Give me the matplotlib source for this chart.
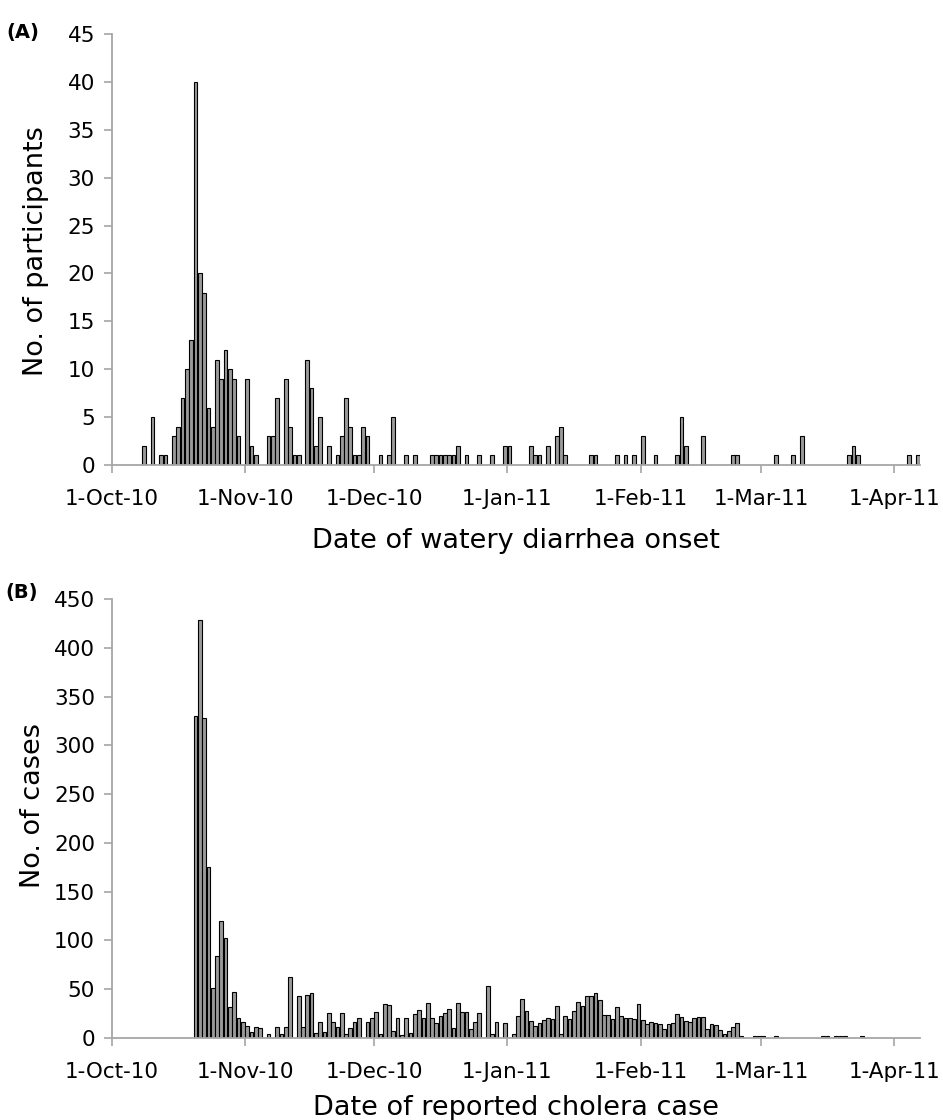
import numpy as np
import matplotlib
matplotlib.use("Agg")
import matplotlib.pyplot as plt
import matplotlib.dates as mdates
from matplotlib.ticker import FuncFormatter, MultipleLocator

# (A) daily counts by date of watery diarrhea onset, one list per month
a_oct = [0, 0, 0, 0, 0, 0, 0, 2, 0, 5, 0, 1, 1, 0, 3, 4, 7, 10, 13, 40,
         20, 18, 6, 4, 11, 9, 12, 10, 9, 3, 0]
a_nov = [9, 2, 1, 0, 0, 3, 3, 7, 0, 9, 4, 1, 1, 0, 11, 8, 2, 5, 0, 2,
         0, 1, 3, 7, 4, 1, 1, 4, 3, 0]
a_dec = [0, 1, 0, 1, 5, 0, 0, 1, 0, 1, 0, 0, 0, 1, 1, 1, 1, 1, 1, 2,
         0, 1, 0, 0, 1, 0, 0, 1, 0, 0, 2]
a_jan = [2, 0, 0, 0, 0, 2, 1, 1, 0, 2, 0, 3, 4, 1, 0, 0, 0, 0, 0, 1,
         1, 0, 0, 0, 0, 1, 0, 1, 0, 1, 0]
a_feb = [3, 0, 0, 1, 0, 0, 0, 0, 1, 5, 2, 0, 0, 0, 3, 0, 0, 0, 0, 0,
         0, 1, 1, 0, 0, 0, 0, 0]
a_mar = [0, 0, 0, 1, 0, 0, 0, 1, 0, 3, 0, 0, 0, 0, 0, 0, 0, 0, 0, 0,
         1, 2, 1, 0, 0, 0, 0, 0, 0, 0, 0]
a_apr = [0, 0, 0, 1, 0, 1]

# (B) daily reported cholera cases
b_oct = [0, 0, 0, 0, 0, 0, 0, 0, 0, 0, 0, 0, 0, 0, 0, 0, 0, 0, 0,
         330, 428, 328, 175, 51, 84, 120, 102, 32, 47, 21, 16]
b_nov = [12, 6, 11, 10, 0, 4, 0, 11, 4, 11, 63, 0, 43, 11, 44, 46, 5, 16, 6, 26,
         16, 11, 26, 4, 10, 16, 20, 0, 16, 20]
b_dec = [27, 4, 35, 34, 7, 20, 3, 20, 5, 25, 29, 20, 36, 20, 15, 23, 26, 30, 10, 36,
         27, 27, 9, 16, 26, 0, 53, 4, 16, 0, 15]
b_jan = [0, 4, 23, 40, 28, 17, 12, 15, 18, 21, 19, 33, 4, 23, 19, 28, 37, 33, 43, 43,
         46, 39, 24, 24, 19, 32, 23, 21, 20, 19, 35]
b_feb = [18, 14, 16, 15, 14, 9, 14, 15, 25, 22, 17, 16, 21, 22, 22, 9, 14, 13, 8, 4,
         7, 11, 15, 2, 0, 0, 2, 2]
b_mar = [2, 0, 0, 2, 0, 0, 0, 0, 0, 0, 0, 0, 0, 0, 2, 2, 0, 2, 2, 2,
         0, 0, 0, 2, 0, 0, 0, 0, 0, 0, 0]
b_apr = [0, 0, 0, 0, 0, 0]

start = np.datetime64("2010-10-01")
end = np.datetime64("2011-04-07")

W, H = 943, 1120
fig = plt.figure(figsize=(W / 100, H / 100), dpi=100)
plt.rcParams["font.family"] = ["DejaVu Sans"]

spine_col = "#a6a6a6"
bar_col = "#9a9a9a"


def fx(px):
    return px / W


def fy(py):
    return 1 - py / H


def panel(rect, months, ymax, ystep):
    vals = np.concatenate([np.asarray(m, dtype=float) for m in months])
    days = start + np.arange(len(vals)).astype("timedelta64[D]")
    x = mdates.date2num(days) + 0.5
    keep = vals > 0
    ax = fig.add_axes(rect)
    ax.bar(x[keep], vals[keep], width=0.86, color=bar_col,
           edgecolor="black", linewidth=0.8)
    ax.set_xlim(mdates.date2num(start), mdates.date2num(end))
    ax.set_ylim(0, ymax)
    ax.yaxis.set_major_locator(MultipleLocator(ystep))
    ax.xaxis.set_major_locator(mdates.MonthLocator(bymonthday=1))
    ax.xaxis.set_major_formatter(FuncFormatter(
        lambda v, p: "%d-%s" % (mdates.num2date(v).day, mdates.num2date(v).strftime("%b-%y"))))
    for s in ("top", "right"):
        ax.spines[s].set_visible(False)
    for s in ("left", "bottom"):
        ax.spines[s].set_color(spine_col)
        ax.spines[s].set_linewidth(1.3)
    ax.tick_params(axis="both", direction="out", length=6, width=1.2,
                   color=spine_col, labelsize=15.5)
    ax.tick_params(axis="x", pad=11)
    ax.tick_params(axis="y", pad=6)
    return ax


left, right = 111.7, 920
axA = panel([fx(left), fy(465), fx(right - left), (465 - 34) / H],
            [a_oct, a_nov, a_dec, a_jan, a_feb, a_mar, a_apr], 45, 5)
axB = panel([fx(left), fy(1038), fx(right - left), (1038 - 599) / H],
            [b_oct, b_nov, b_dec, b_jan, b_feb, b_mar, b_apr], 450, 50)

fig.text(fx(36), fy(251), "No. of participants", rotation=90,
         ha="center", va="center", fontsize=19.5)
fig.text(fx(33), fy(805), "No. of cases", rotation=90,
         ha="center", va="center", fontsize=19.5)
fig.text(fx(516), fy(548), "Date of watery diarrhea onset",
         ha="center", va="baseline", fontsize=19.5)
fig.text(fx(516), fy(1115), "Date of reported cholera case",
         ha="center", va="baseline", fontsize=19.5)
fig.text(fx(6), fy(38), "(A)", fontsize=14, fontweight="bold", va="baseline")
fig.text(fx(5), fy(598), "(B)", fontsize=14, fontweight="bold", va="baseline")

fig.savefig("out.png", dpi=100)
